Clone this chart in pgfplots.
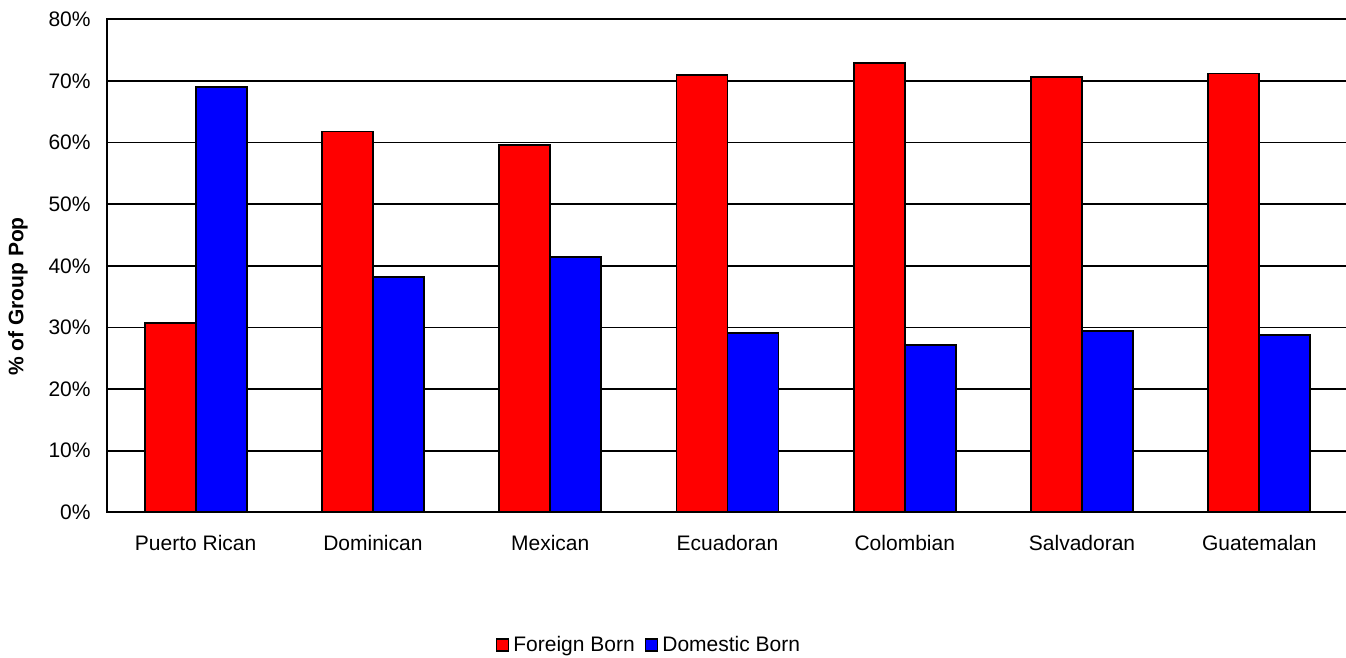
\documentclass[border=0pt]{standalone}
\usepackage{fontspec}
\setmainfont{Liberation Sans}
\usepackage{pgfplots}
\pgfplotsset{compat=1.18}
\begin{document}
\begin{tikzpicture}[x=1pt,y=1pt]
\path[use as bounding box] (0,0) rectangle (673,329);
\begin{axis}[
  scale only axis,
  at={(53.5pt,72.85pt)}, anchor=south west,
  width=620.5pt, height=246.5pt,
  xmin=-0.5, xmax=6.5,
  ymin=0, ymax=80,
  ybar=0pt, bar width=25.5pt,
  xtick={0,1,2,3,4,5,6},
  xticklabels={Puerto Rican,Dominican,Mexican,Ecuadoran,Colombian,Salvadoran,Guatemalan},
  ytick={0,10,...,80},
  yticklabel={\pgfmathprintnumber{\tick}\%},
  /pgf/number format/assume math mode=true,
  major tick length=0pt,
  ymajorgrids,
  major grid style={black, line width=0.9pt},
  axis line style={black, line width=0.9pt},
  tick label style={font=\fontsize{10.5}{12}\selectfont},
  yticklabel style={xshift=-4.7pt},
  xticklabel style={yshift=-8pt},
  ylabel={\bfseries\% of Group Pop},
  every axis y label/.style={at={(axis description cs:-0.0717,0.4377)}, rotate=90, anchor=center, font=\fontsize{10.5}{12}\selectfont},
  legend style={at={(axis description cs:0.4375,-0.269)}, anchor=center, draw=none, fill=none,
    font=\fontsize{10.5}{12}\selectfont, legend columns=-1,
    /tikz/every even column/.append style={column sep=3pt}, inner sep=0pt},
  legend image code/.code={\draw[#1, line width=0.8pt] (0pt,-3pt) rectangle (6pt,3pt);},
  every axis plot/.append style={draw=black, line width=0.9pt},
]
\addplot[fill={rgb,255:red,255;green,0;blue,0}] coordinates {
  (0,30.7) (1,61.8) (2,59.6) (3,71.0) (4,72.9) (5,70.6) (6,71.2)};
\addplot[fill={rgb,255:red,0;green,0;blue,255}] coordinates {
  (0,69.0) (1,38.2) (2,41.4) (3,29.1) (4,27.2) (5,29.4) (6,28.8)};
\legend{Foreign Born,Domestic Born}
\end{axis}
\end{tikzpicture}
\end{document}
